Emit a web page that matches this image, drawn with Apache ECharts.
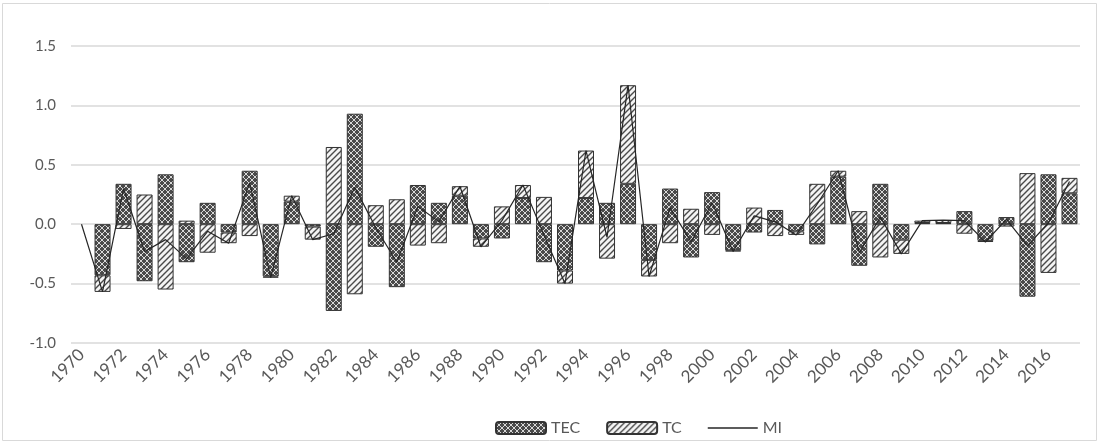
<!DOCTYPE html>
<html>
<head>
<meta charset="utf-8">
<script src="https://cdn.jsdelivr.net/npm/echarts@6/dist/echarts.min.js"></script>
<style>
  html, body { margin: 0; padding: 0; background: #fff; }
  #chart { width: 1100px; height: 444px; }
</style>
</head>
<body>
<div id="chart"></div>
<script>
// years 1970 - 2017
const years = [];
for (let y = 1970; y <= 2017; y++) years.push(String(y));

const tecData = [null, -0.43, 0.34, -0.48, 0.42, -0.32, 0.18, -0.07, 0.45, -0.44,
  0.19, -0.02, -0.73, 0.93, -0.19, -0.53, 0.33, 0.18, 0.24, -0.12,
  -0.12, 0.22, -0.32, -0.39, 0.22, 0.18, 0.34, -0.30, 0.30, -0.28,
  0.27, -0.22, -0.07, 0.12, -0.06, -0.17, 0.40, -0.35, 0.34, -0.13,
  0.01, 0.01, 0.11, -0.14, 0.06, -0.61, 0.42, 0.26];

const tcData = [null, -0.14, -0.04, 0.25, -0.55, 0.03, -0.24, -0.09, -0.10, -0.01,
  0.05, -0.11, 0.65, -0.59, 0.16, 0.21, -0.18, -0.16, 0.08, -0.07,
  0.15, 0.11, 0.23, -0.11, 0.40, -0.29, 0.83, -0.14, -0.16, 0.13,
  -0.09, -0.01, 0.14, -0.10, -0.03, 0.34, 0.05, 0.11, -0.28, -0.12,
  0.02, 0.025, -0.08, -0.01, -0.02, 0.43, -0.41, 0.13];

const miData = [0, -0.57, 0.30, -0.23, -0.13, -0.29, -0.06, -0.16, 0.35, -0.45,
  0.24, -0.13, -0.08, 0.31, -0.03, -0.32, 0.15, 0.02, 0.32, -0.19,
  0.03, 0.33, -0.09, -0.50, 0.62, -0.11, 1.17, -0.44, 0.14, -0.15,
  0.18, -0.23, 0.07, 0.02, -0.09, 0.17, 0.45, -0.24, 0.06, -0.25,
  0.03, 0.035, 0.03, -0.15, 0.04, -0.18, 0.01, 0.36];

const yTicks = { min: -1, max: 1.5, step: 0.5 };

// fill patterns, like the excel ones
function crossPattern() {
  const c = document.createElement("canvas");
  c.width = 6; c.height = 6;
  const g = c.getContext("2d");
  g.fillStyle = "#4a4a4a";
  g.fillRect(0, 0, 6, 6);
  g.strokeStyle = "#d8d8d8";
  g.lineWidth = 1;
  g.beginPath();
  g.moveTo(0, 0); g.lineTo(6, 6);
  g.moveTo(6, 0); g.lineTo(0, 6);
  g.stroke();
  return c;
}
function stripePattern() {
  const c = document.createElement("canvas");
  c.width = 6; c.height = 6;
  const g = c.getContext("2d");
  g.fillStyle = "#f4f4f4";
  g.fillRect(0, 0, 6, 6);
  g.strokeStyle = "#4a4a4a";
  g.lineWidth = 1.4;
  g.beginPath();
  g.moveTo(0, 6); g.lineTo(6, 0);
  g.moveTo(-1, 1); g.lineTo(1, -1);
  g.moveTo(5, 7); g.lineTo(7, 5);
  g.stroke();
  return c;
}

const chart = echarts.init(document.getElementById("chart"));
const txt = "#595959";
const font = "Lato, 'Open Sans', sans-serif";

chart.setOption({
  animation: false,
  graphic: [{
    type: "rect",
    shape: { x: 2.5, y: 3.5, width: 1094, height: 437 },
    style: { fill: "none", stroke: "#d9d9d9", lineWidth: 1 },
    silent: true
  }],
  grid: { left: 71, right: 20, top: 46, bottom: 101 },
  legend: {
    left: 490,
    top: 415,
    itemWidth: 50,
    itemHeight: 12,
    itemGap: 26,
    textStyle: { color: txt, fontSize: 16, fontFamily: font },
    data: [
      "TEC",
      "TC",
      { name: "MI", icon: "path://M0,0L50,0L50,1.3L0,1.3Z", itemStyle: { color: "#262626" } }
    ]
  },
  xAxis: {
    type: "category",
    data: years,
    axisLine: { show: false },
    axisTick: { show: false },
    axisLabel: {
      interval: 1,
      rotate: 45,
      color: txt,
      fontSize: 17,
      fontFamily: font,
      margin: 9
    }
  },
  yAxis: {
    type: "value",
    min: yTicks.min,
    max: yTicks.max,
    interval: yTicks.step,
    axisLine: { show: false },
    axisTick: { show: false },
    splitLine: { lineStyle: { color: "#d9d9d9", width: 1.5 } },
    axisLabel: {
      color: txt,
      fontSize: 15,
      fontFamily: font,
      margin: 15,
      formatter: (v) => v.toFixed(1)
    }
  },
  series: [
    {
      name: "TEC",
      type: "bar",
      stack: "mi",
      barWidth: 16,
      data: tecData,
      itemStyle: {
        color: { image: crossPattern(), repeat: "repeat" },
        borderColor: "#333",
        borderWidth: 1
      }
    },
    {
      name: "TC",
      type: "bar",
      stack: "mi",
      barWidth: 16,
      data: tcData,
      itemStyle: {
        color: { image: stripePattern(), repeat: "repeat" },
        borderColor: "#333",
        borderWidth: 1
      }
    },
    {
      name: "MI",
      type: "line",
      data: miData,
      symbol: "none",
      z: 5,
      lineStyle: { color: "#262626", width: 1.2 },
      itemStyle: { color: "#262626" }
    }
  ]
});
</script>
</body>
</html>
